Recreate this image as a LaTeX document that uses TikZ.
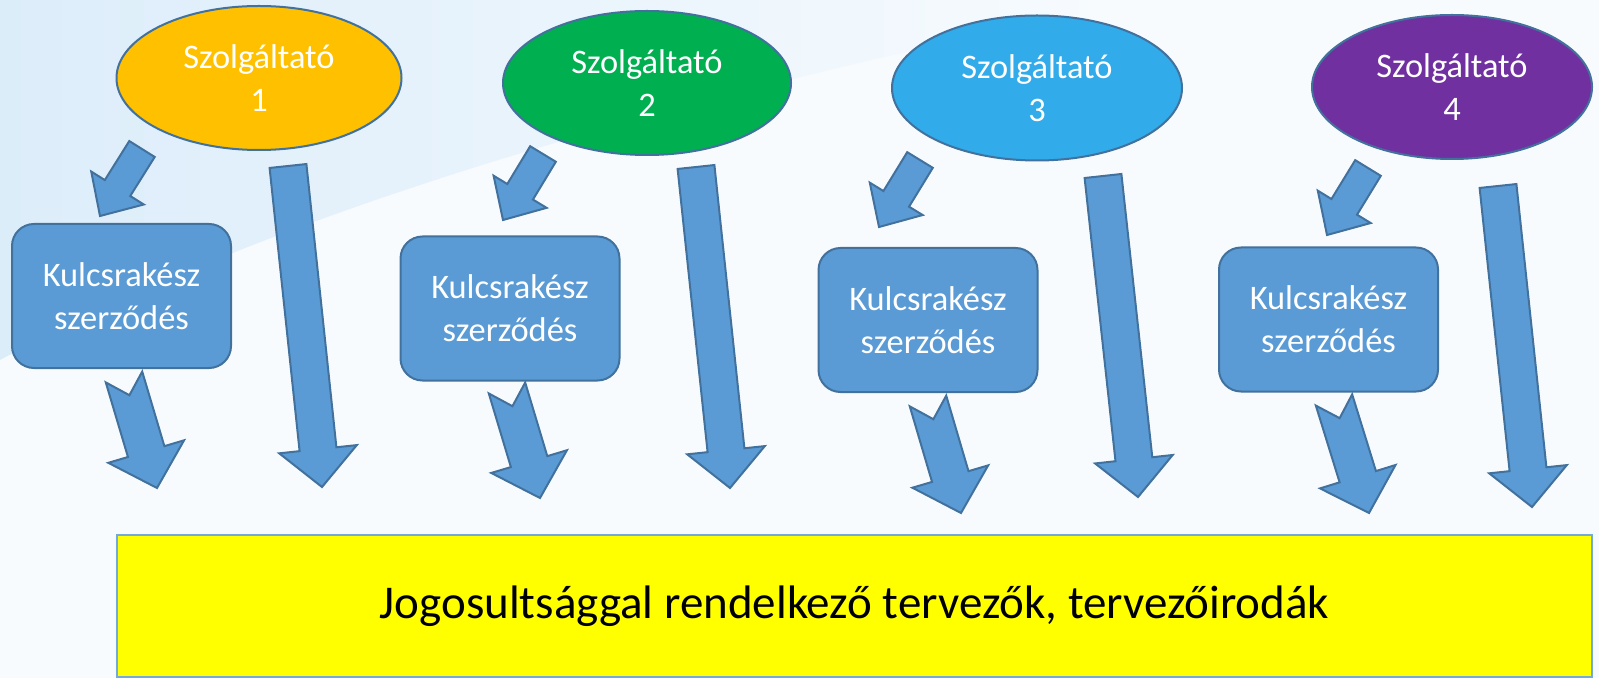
\documentclass[tikz,border=0pt]{standalone}
\usepackage{fontspec}
\setmainfont{Carlito}
\usetikzlibrary{calc,shapes.geometric,positioning}
\definecolor{gold}{HTML}{FFC000}
\definecolor{grn}{HTML}{00B050}
\definecolor{sky}{HTML}{31ABE9}
\definecolor{plum}{HTML}{7030A0}
\definecolor{acc}{HTML}{5B9BD5}
\definecolor{edge}{HTML}{41719C}
\definecolor{ylw}{HTML}{FFFF00}
\definecolor{bgl}{HTML}{DCEDFA}
\tikzset{
  prov/.style={ellipse,draw=edge,line width=1pt,inner sep=0pt,minimum width=143pt,minimum height=72pt,align=center,text=white,font=\fontsize{17.2}{21.5}\selectfont},
  contr/.style={rectangle,rounded corners=11pt,draw=edge,fill=acc,line width=1pt,minimum width=109.5pt,minimum height=72pt,align=center,text=white,font=\fontsize{17.2}{21.5}\selectfont},
  bar/.style={rectangle,draw=acc!85!white,fill=ylw,line width=0.8pt,minimum width=737.5pt,minimum height=71pt,font=\fontsize{23.5}{28}\selectfont},
  fat/.style={draw=edge,fill=acc,line width=1pt,line join=miter},
}
% block arrow: tail, tip, half shaft, half head, head length, notch depth
\newcommand{\fatarrow}[6]{%
  \coordinate (hb) at ($(#2)!#5!(#1)$);
  \draw[fat] ($(#1)!#3!90:(#2)$) -- ($(hb)!#3!90:(#2)$) -- ($(hb)!#4!90:(#2)$) -- (#2)
    -- ($(hb)!#4!-90:(#2)$) -- ($(hb)!#3!-90:(#2)$) -- ($(#1)!#3!-90:(#2)$) -- ($(#1)!#6!(#2)$) -- cycle;
}

\begin{document}
\begin{tikzpicture}[x=0.5pt,y=-0.5pt]
  \useasboundingbox (0,0) rectangle (1599,678);
  % background
  \fill[bgl!20!white] (0,0) rectangle (1599,678);
  \shade[left color=bgl,right color=bgl!20!white] (0,0) -- (1150,0) .. controls (700,90) and (300,200) .. (0,360) -- cycle;

  % providers
  \node[prov,fill=gold,minimum width=142.5pt] (s1) at (259,78) {Szolgáltató\\1};
  \node[prov,fill=grn,minimum width=144pt] (s2) at (647,83) {Szolgáltató\\2};
  \node[prov,fill=sky,minimum width=145pt,minimum height=72.5pt] (s3) at (1037,88) {Szolgáltató\\3};
  \node[prov,fill=plum,minimum width=140pt] (s4) at (1452,87) {Szolgáltató\\4};

  % contracts
  \node[contr] (k1) at (121.5,296) {Kulcsrakész\\szerződés};
  \node[contr] (k2) at (510,308.5) {Kulcsrakész\\szerződés};
  \node[contr] (k3) at (928,320) {Kulcsrakész\\szerződés};
  \node[contr] (k4) at (1328.5,319.5) {Kulcsrakész\\szerződés};

  \node[bar] (jog) at (854.5,606) {Jogosultsággal rendelkező tervezők, tervezőirodák};

  % arrow ends
  \coordinate (a1) at (142,149);  \coordinate (b1) at (100,216);
  \coordinate (a2) at (543,154);  \coordinate (b2) at (503,220);
  \coordinate (a3) at (920,160);  \coordinate (b3) at (879,227);
  \coordinate (a4) at (1368,168); \coordinate (b4) at (1327,235);
  \coordinate (c1) at (288,166);  \coordinate (d1) at (322,487);
  \coordinate (c2) at (696,167);  \coordinate (d2) at (730,488);
  \coordinate (c3) at (1103,176); \coordinate (d3) at (1138,497);
  \coordinate (c4) at (1498,186); \coordinate (d4) at (1532,507);
  \coordinate (e1) at (124,377);  \coordinate (f1) at (157,488);
  \coordinate (e2) at (507,388);  \coordinate (f2) at (540,498);
  \coordinate (e3) at (928,401);  \coordinate (f3) at (961,513);
  \coordinate (e4) at (1334,400); \coordinate (f4) at (1369,513);

  \foreach \i in {1,2,3,4}{
    \fatarrow{a\i}{b\i}{7.5pt}{15.5pt}{16.5pt}{0pt}
    \fatarrow{c\i}{d\i}{9.25pt}{19.5pt}{19pt}{0pt}
    \fatarrow{e\i}{f\i}{9.5pt}{19.75pt}{19pt}{9.5pt}
  }
\end{tikzpicture}
\end{document}
